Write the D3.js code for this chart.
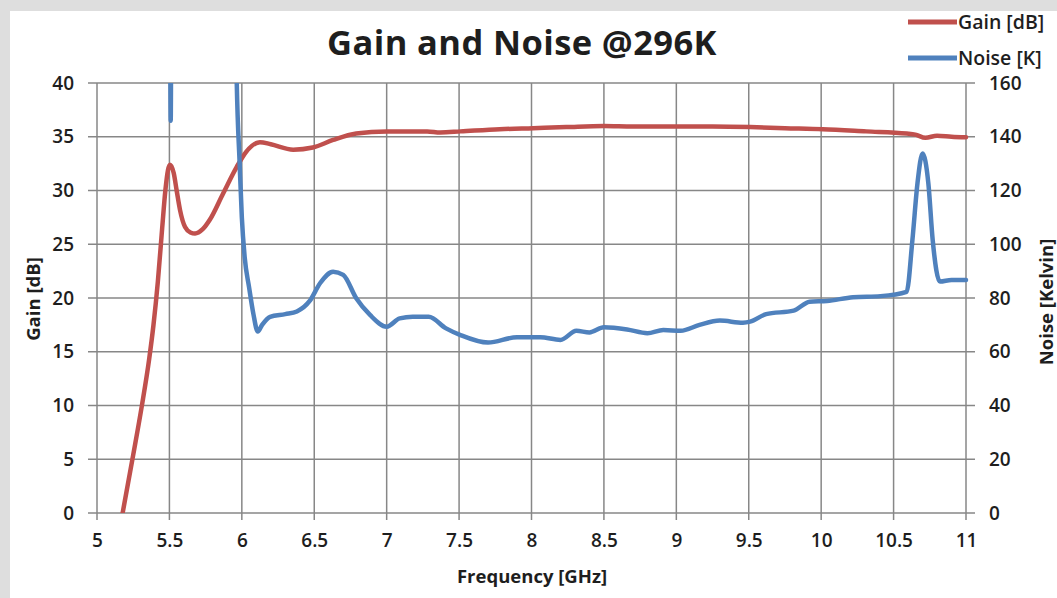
<!DOCTYPE html>
<html>
<head>
<meta charset="utf-8">
<script src="https://cdn.jsdelivr.net/npm/d3@7"></script>
<style>
  html, body { margin: 0; padding: 0; background: #dedede; }
  svg { display: block; }
  text { font-family: "Open Sans", "Noto Sans", sans-serif; fill: #1e1e1e; }
</style>
</head>
<body>
<svg id="chart" width="1057" height="598"></svg>
<script>
// Gain curve: frequency [GHz] and gain [dB]
const gainFreq = [5.177, 5.25, 5.31, 5.36, 5.39, 5.42, 5.45, 5.472, 5.49, 5.504,
  5.53, 5.55, 5.573, 5.608, 5.645, 5.677, 5.73, 5.78, 5.87, 5.965, 6.03, 6.125, 6.2, 6.355,
  6.49, 6.63, 6.79, 7.0, 7.28, 7.37, 7.51, 7.78, 8.01, 8.24, 8.5, 8.7, 9.0, 9.25, 9.51,
  9.75, 10.01, 10.31, 10.59, 10.65, 10.72, 10.8, 10.9, 11.0];
const gainDb = [0, 5.4, 10.0, 14.3, 17.5, 21.5, 26.5, 30.0, 31.9, 32.4,
  31.6, 30.0, 28.2, 26.6, 26.1, 26.0, 26.4, 27.3, 29.7, 32.2, 33.6, 34.5, 34.3, 33.8,
  34.0, 34.7, 35.3, 35.5, 35.5, 35.4, 35.5, 35.7, 35.8, 35.9, 36.0, 35.95, 35.95, 35.95, 35.9,
  35.8, 35.7, 35.5, 35.3, 35.2, 34.9, 35.1, 35.0, 34.95];

// Noise temperature curve: frequency [GHz] and noise [K]
const noiseFreq = [5.49, 5.509, 5.53, 5.94, 5.965, 5.985, 6.0, 6.02, 6.05, 6.08, 6.11,
  6.14, 6.195, 6.3, 6.38, 6.47, 6.54, 6.63, 6.7, 6.79, 6.885, 7.0, 7.09, 7.18, 7.29,
  7.41, 7.51, 7.7, 7.9, 8.06, 8.2, 8.31, 8.4, 8.5, 8.66, 8.8, 8.91, 9.03, 9.16, 9.3,
  9.46, 9.51, 9.62, 9.81, 9.92, 10.04, 10.22, 10.41, 10.59, 10.63, 10.665, 10.7, 10.74,
  10.77, 10.82, 10.9, 11.0];
const noiseK = [900, 146, 900, 260, 160, 130, 110, 95, 84, 74, 67.5,
  70, 73, 74, 75, 79, 85.5, 89.8, 88.6, 79.9, 73.7, 69.3, 72.4, 73.0, 73.0,
  68.7, 66.2, 63.4, 65.4, 65.4, 64.4, 67.8, 67.2, 69.1, 68.3, 66.9, 68.1, 67.8, 70.0, 71.6,
  70.8, 71.2, 74.0, 75.3, 78.6, 78.9, 80.3, 80.7, 82.3, 101.6, 122.7, 133.8, 122.7,
  101.6, 86.1, 86.7, 86.7];

// Axis ticks
const freqTicks = [5, 5.5, 6, 6.5, 7, 7.5, 8, 8.5, 9, 9.5, 10, 10.5, 11];
const gainTicks = [0, 5, 10, 15, 20, 25, 30, 35, 40];
const noiseTicks = [0, 20, 40, 60, 80, 100, 120, 140, 160];

// Labels
const chartTitle = "Gain and Noise @296K";
const xTitle = "Frequency [GHz]";
const yLeftTitle = "Gain [dB]";
const yRightTitle = "Noise [Kelvin]";
const seriesNames = ["Gain [dB]", "Noise [K]"];
const seriesColors = ["#c0504d", "#4f81bd"];

const svg = d3.select("#chart");
const plotL = 97, plotR = 966, plotT = 83, plotB = 513;

// white chart panel on the grey page
svg.append("rect").attr("x", 10).attr("y", 11).attr("width", 1047).attr("height", 587)
  .attr("fill", "#ffffff");

const x = d3.scaleLinear().domain([5, 11]).range([plotL, plotR]);
const yG = d3.scaleLinear().domain([0, 40]).range([plotB, plotT]);
const yN = d3.scaleLinear().domain([0, 160]).range([plotB, plotT]);

const gridColor = "#878787";
const grid = svg.append("g").attr("stroke", gridColor).attr("stroke-width", 1.5);
grid.selectAll("line.h").data(gainTicks).join("line").attr("class", "h")
  .attr("x1", plotL - 9).attr("x2", plotR + 9)
  .attr("y1", d => yG(d)).attr("y2", d => yG(d));
grid.selectAll("line.v").data(freqTicks).join("line").attr("class", "v")
  .attr("x1", d => x(d)).attr("x2", d => x(d))
  .attr("y1", plotT).attr("y2", plotB + 7);

// tick labels via d3 axes (tick lines are drawn by the grid above)
function styleAxis(g) {
  g.select(".domain").remove();
  g.selectAll(".tick line").remove();
  g.selectAll("text").attr("font-size", 19).attr("font-weight", 600)
    .attr("fill", "#222222").attr("font-family", "'Open Sans', sans-serif");
}
svg.append("g").attr("transform", `translate(${plotL},0)`)
  .call(d3.axisLeft(yG).tickValues(gainTicks).tickSize(0).tickPadding(23).tickFormat(d3.format("d")))
  .call(styleAxis);
svg.append("g").attr("transform", `translate(${plotR},0)`)
  .call(d3.axisRight(yN).tickValues(noiseTicks).tickSize(0).tickPadding(23).tickFormat(d3.format("d")))
  .call(styleAxis);
svg.append("g").attr("transform", `translate(0,${plotB})`)
  .call(d3.axisBottom(x).tickValues(freqTicks).tickSize(0).tickPadding(21).tickFormat(d => String(d)))
  .call(styleAxis);

// plot-area clipping
svg.append("clipPath").attr("id", "plotClip").append("rect")
  .attr("x", plotL - 10).attr("y", plotT).attr("width", plotR - plotL + 20).attr("height", plotB - plotT);

const plot = svg.append("g").attr("clip-path", "url(#plotClip)");

const gainLine = d3.line().x(d => x(d[0])).y(d => yG(d[1])).curve(d3.curveMonotoneX);
const noiseLine = d3.line().x(d => x(d[0])).y(d => yN(d[1])).curve(d3.curveMonotoneX);

plot.append("path").datum(gainFreq.map((f, i) => [f, gainDb[i]]))
  .attr("d", gainLine).attr("fill", "none").attr("stroke", seriesColors[0])
  .attr("stroke-width", 4.5).attr("stroke-linecap", "round").attr("stroke-linejoin", "round");
plot.append("path").datum(noiseFreq.map((f, i) => [f, noiseK[i]]))
  .attr("d", noiseLine).attr("fill", "none").attr("stroke", seriesColors[1])
  .attr("stroke-width", 4.5).attr("stroke-linecap", "round").attr("stroke-linejoin", "round");

// titles
svg.append("text").attr("x", 522).attr("y", 55).attr("text-anchor", "middle")
  .attr("font-size", 34.5).attr("font-weight", 700).attr("letter-spacing", 0.4).text(chartTitle);
svg.append("text").attr("x", 532).attr("y", 583).attr("text-anchor", "middle")
  .attr("font-size", 18.5).attr("font-weight", 700).text(xTitle);
svg.append("text").attr("transform", "translate(40,299) rotate(-90)").attr("text-anchor", "middle")
  .attr("font-size", 18.5).attr("font-weight", 700).text(yLeftTitle);
svg.append("text").attr("transform", "translate(1053,302) rotate(-90)").attr("text-anchor", "middle")
  .attr("font-size", 18.5).attr("font-weight", 700).text(yRightTitle);

// legend
const legend = svg.append("g");
const legendY = [22, 58];
legend.selectAll("line").data(seriesNames).join("line")
  .attr("x1", 908).attr("x2", 957)
  .attr("y1", (d, i) => legendY[i]).attr("y2", (d, i) => legendY[i])
  .attr("stroke", (d, i) => seriesColors[i]).attr("stroke-width", 5);
legend.selectAll("text").data(seriesNames).join("text")
  .attr("x", 958).attr("y", (d, i) => legendY[i] + 7)
  .attr("font-size", 19.5).attr("font-weight", 600).text(d => d);
</script>
</body>
</html>
